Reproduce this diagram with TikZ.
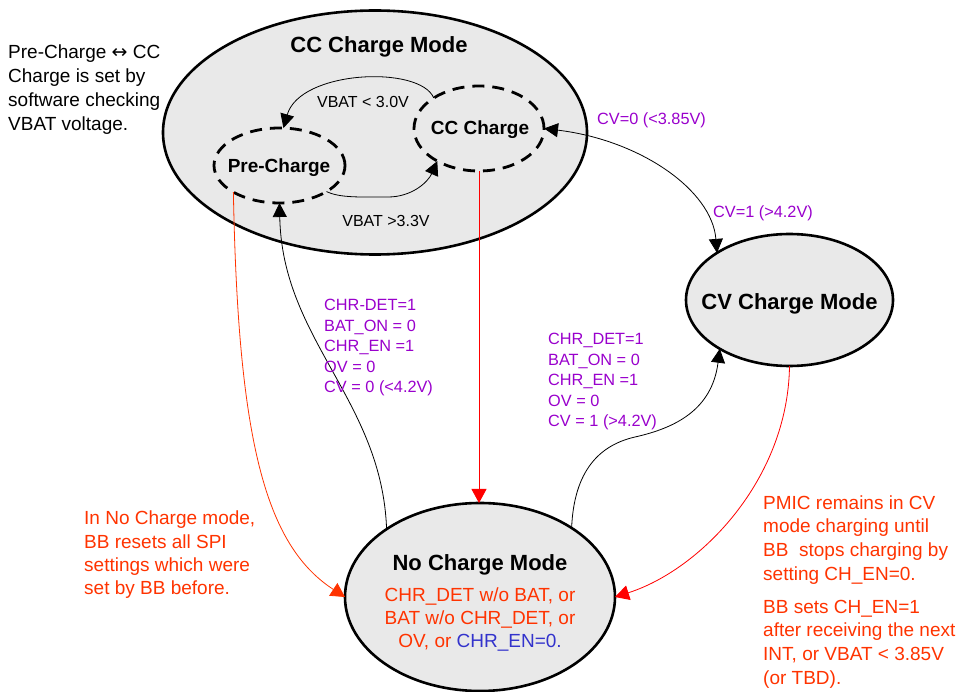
\documentclass[tikz,border=0pt]{standalone}
\usepackage{fontspec}
\setmainfont{Liberation Sans}
\newfontfamily\djv{DejaVu Sans}
\usetikzlibrary{shapes.geometric,arrows.meta}
\definecolor{purp}{RGB}{153,0,204}
\definecolor{ored}{RGB}{255,51,0}
\definecolor{bl}{RGB}{51,51,204}
\definecolor{fillg}{RGB}{233,233,233}
\definecolor{lred}{RGB}{255,0,0}
\newcommand\fbig{\fontsize{22}{26}\selectfont\bfseries}
\newcommand\fmid{\fontsize{19}{23}\selectfont\bfseries}
\newcommand\fnorm{\fontsize{19}{23.67}\selectfont}
\newcommand\fpur{\fontsize{16.3}{20.5}\selectfont}
\newcommand\fvb{\fontsize{16}{20}\selectfont}
\begin{document}
\begin{tikzpicture}[x=1pt,y=-1pt,
  state/.style={ellipse, draw, line width=2.6pt, fill=fillg, inner sep=0pt, outer sep=0pt},
  substate/.style={ellipse, draw, line width=2.8pt, dash pattern=on 12pt off 8pt, inner sep=0pt, outer sep=0pt},
  conn/.style={line width=0.8pt, -{Triangle[length=14pt,width=14pt]}},
  rconn/.style={line width=0.8pt, draw=lred, -{Triangle[length=14pt,width=15pt]}},
  oconn/.style={line width=0.8pt, draw=ored, -{Triangle[length=14pt,width=15pt]}},
  txt/.style={inner sep=0pt, anchor=base west},
  ctxt/.style={inner sep=0pt, anchor=base}
]
\useasboundingbox (0,0) rectangle (959,692);

% states
\node[state, minimum width=424pt, minimum height=244pt] (ccm) at (375,132.5) {};
\node[substate, minimum width=131pt, minimum height=75pt] (pre) at (279.5,165.5) {};
\node[substate, minimum width=130pt, minimum height=85pt] (ccc) at (479,128.5) {};
\node[state, minimum width=207pt, minimum height=132pt] (cv) at (789.5,300) {};
\node[state, minimum width=270pt, minimum height=188pt] (nc) at (480,597) {};

% state texts
\node[ctxt, font=\fbig] (ccmt) at (379,53) {CC Charge Mode};
\node[ctxt, font=\fmid] (pret) at (279,173) {Pre-Charge};
\node[ctxt, font=\fmid] (ccct) at (480,135) {CC Charge};
\node[ctxt, font=\fbig] (cvt) at (789.5,310) {CV Charge Mode};
\node[ctxt, font=\fbig] (nct) at (480,570) {No Charge Mode};
\node[ctxt, font=\fontsize{19}{23.3}\selectfont, text=ored] (ncd) at (480,601)
  {\begin{tabular}[t]{@{}c@{}}CHR\_DET w/o BAT, or\\BAT w/o CHR\_DET, or\\OV, or \textcolor{bl}{CHR\_EN=0.}\end{tabular}};

% connectors
\draw[conn] (ccc.146) .. controls (420,65) and (300,70) .. (pre.84);
\draw[conn] (pre.-29) .. controls (340,198) and (360,197) .. (388,197)
  .. controls (412,197) and (428,182) .. (ccc.-142);
\draw[rconn] (ccc.south) -- (ccc.south |- nc.north);
\draw[oconn] (pre.210) .. controls (238,440) and (265,545) .. (nc.west);
\draw[conn] (nc.144) .. controls (382,400) and (282,340) .. (pre.south);
\draw[conn] (nc.37) .. controls (574,470) and (600,445) .. (635,437)
  .. controls (675,428) and (712,410) .. (cv.-145);
\draw[rconn] (cv.south) .. controls (788,480) and (700,570) .. (nc.east);
\draw[line width=0.8pt, {Triangle[length=14pt,width=14pt]}-{Triangle[length=14pt,width=14pt]}]
  (ccc.east) .. controls (640,140) and (712,190) .. (cv.147);

% connector labels
\node[ctxt, font=\fvb] (l30) at (363,108) {VBAT < 3.0V};
\node[ctxt, font=\fvb] (l33) at (386,227) {VBAT >3.3V};
\node[txt, font=\fpur, text=purp] (lcv0) at (597,125) {CV=0 (<3.85V)};
\node[txt, font=\fpur, text=purp] (lcv1) at (713,218) {CV=1 (>4.2V)};
\node[txt, font=\fpur, text=purp] (lb1) at (324,311)
  {\begin{tabular}[t]{@{}l@{}}CHR-DET=1\\BAT\_ON = 0\\CHR\_EN =1\\OV = 0\\CV = 0 (<4.2V)\end{tabular}};
\node[txt, font=\fpur, text=purp] (lb2) at (548,345)
  {\begin{tabular}[t]{@{}l@{}}CHR\_DET=1\\BAT\_ON = 0\\CHR\_EN =1\\OV = 0\\CV = 1 (>4.2V)\end{tabular}};

% notes
\node[txt, font=\fnorm] (note) at (8,59)
  {\begin{tabular}[t]{@{}l@{}}Pre-Charge {\djv ↔} CC\\Charge is set by\\software checking\\VBAT voltage.\end{tabular}};
\node[txt, font=\fontsize{19}{23.33}\selectfont, text=ored] (noteL) at (84,525)
  {\begin{tabular}[t]{@{}l@{}}In No Charge mode,\\BB resets all SPI\\settings which were\\set by BB before.\end{tabular}};
\node[txt, font=\fnorm, text=ored] (noteR1) at (763,509)
  {\begin{tabular}[t]{@{}l@{}}PMIC remains in CV\\mode charging until\\BB\ \ stops charging by\\setting CH\_EN=0.\end{tabular}};
\node[txt, font=\fnorm, text=ored] (noteR2) at (763,613)
  {\begin{tabular}[t]{@{}l@{}}BB sets CH\_EN=1\\after receiving the next\\INT, or VBAT < 3.85V\\(or TBD).\end{tabular}};
\end{tikzpicture}
\end{document}
